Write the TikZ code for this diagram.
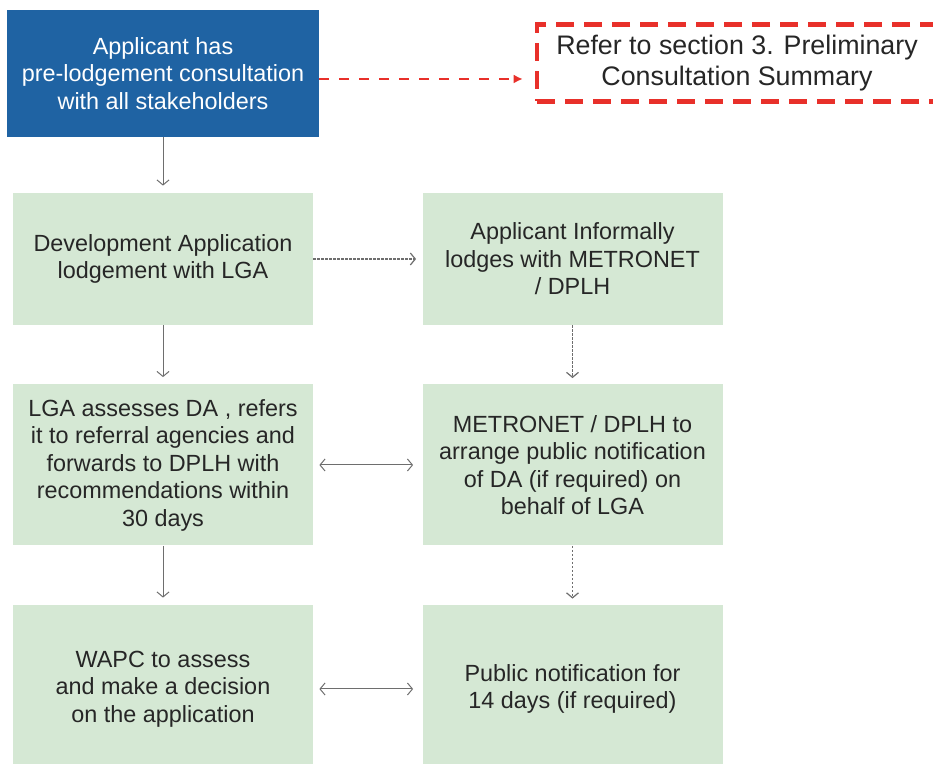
\documentclass[tikz,border=0pt]{standalone}
\usepackage{fontspec}
\setmainfont{Liberation Sans}
\usepackage{tikz}
\usetikzlibrary{arrows.meta}
\definecolor{dablue}{HTML}{1F63A3}
\definecolor{dagreen}{HTML}{D5E8D4}
\definecolor{dared}{HTML}{E8302A}
\definecolor{dagrey}{HTML}{6E6E6E}
\tikzset{
box/.style={align=center,inner sep=0pt,font=\fontsize{11.7}{13.75}\selectfont,text=black!85},
bluebox/.style={box,fill=dablue,text=white,minimum width=156pt,minimum height=63.5pt},
greenbox/.style={box,fill=dagreen,minimum width=150pt},
notebox/.style={box,draw=dared,line width=2.3pt,dash pattern=on 9pt off 5pt,minimum width=200pt,minimum height=38.5pt,font=\fontsize{13.4}{15.5}\selectfont}
}

\begin{document}
\begin{tikzpicture}[x=0.5pt,y=-0.5pt]
\useasboundingbox (0,0) rectangle (933,764);
\clip (0,0) rectangle (933,764);
\node[bluebox] (P) at (163,73.5) {Applicant has\\pre-lodgement consultation\\with all stakeholders};
\node[notebox] (R) at (737,63) {Refer to section 3. Preliminary\\Consultation Summary};
\node[greenbox,minimum height=66pt] (D) at (163,259) {Development Application\\lodgement with LGA};
\node[greenbox,minimum height=66pt] (I) at (572.5,259) {Applicant Informally\\lodges with METRONET\\/ DPLH};
\node[greenbox,minimum height=80.5pt] (L) at (163,465) {LGA assesses DA , refers\\it to referral agencies and\\forwards to DPLH with\\recommendations within\\30 days};
\node[greenbox,minimum height=80.5pt] (M) at (572.5,465) {METRONET / DPLH to\\arrange public notification\\of DA (if required) on\\behalf of LGA};
\node[greenbox,minimum height=84pt] (W) at (163,689) {WAPC to assess\\and make a decision\\on the application};
\node[greenbox,minimum height=84pt] (N) at (572.5,689) {Public notification for\\14 days (if required)};
% connectors
\path[->,draw=dagrey,line width=0.5pt,>={Straight Barb[length=2.5pt,width=6pt]},shorten >=3.5pt]
(P) edge (D)
(D) edge (L)
(L) edge (W);
\path[->,draw=dagrey,line width=0.6pt,>={Straight Barb[length=2.5pt,width=6pt]},dash pattern=on 1.2pt off 0.8pt,shorten >=3pt]
(D) edge (I)
(I) edge (M)
(M) edge (N);
\path[<->,draw=dagrey,line width=0.5pt,>={Straight Barb[length=2.5pt,width=6pt]},shorten <=3pt,shorten >=4.5pt]
(L) edge (M)
(W) edge (N);
\draw[-{Latex[length=4.5pt,width=4.5pt]},dared,line width=1pt,dash pattern=on 5pt off 5pt,shorten >=6pt]
([yshift=-2.75pt]P.east) -- ([yshift=-8pt]R.west);
\end{tikzpicture}
\end{document}
